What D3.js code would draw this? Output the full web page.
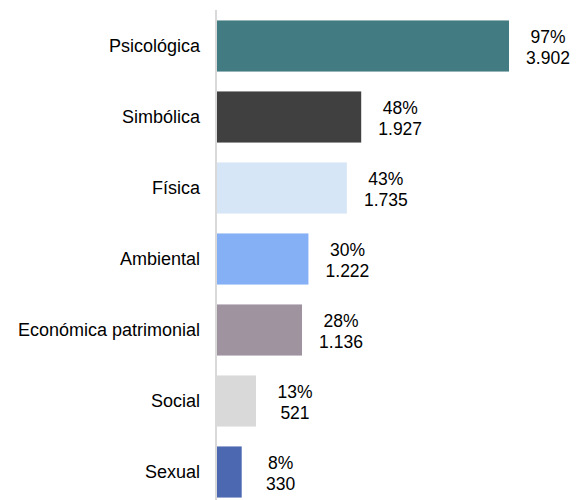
<!DOCTYPE html>
<html>
<head>
<meta charset="utf-8">
<script src="https://cdn.jsdelivr.net/npm/d3@7"></script>
<style>
  body { margin: 0; background: #fff; }
  text { font-family: "Liberation Sans", Arial, sans-serif; fill: #000; }
</style>
</head>
<body>
<div id="chart"></div>
<script>
// DATA
const categories = ["Psicológica", "Simbólica", "Física", "Ambiental", "Económica patrimonial", "Social", "Sexual"];
const counts = [3902, 1927, 1735, 1222, 1136, 521, 330];
const percents = [97, 48, 43, 30, 28, 13, 8];
const colors = ["#427b82", "#404040", "#d6e6f7", "#86b0f5", "#a093a0", "#d9d9d9", "#4b68b0"];

const width = 584, height = 500;

const svg = d3.select("#chart").append("svg")
  .attr("width", width)
  .attr("height", height);

const xScale = d3.scaleLinear()
  .domain([0, d3.max(counts)])
  .range([217, 509]);

const yScale = d3.scaleBand()
  .domain(categories)
  .range([10.5, 507.5])
  .paddingInner(0.28)
  .paddingOuter(0.14);

const data = categories.map((c, i) => ({ cat: c, count: counts[i], pct: percents[i], color: colors[i] }));

// bars
svg.selectAll(".bar").data(data)
  .enter().append("rect")
    .attr("class", "bar")
    .attr("x", xScale(0))
    .attr("y", d => yScale(d.cat))
    .attr("width", d => xScale(d.count) - xScale(0))
    .attr("height", yScale.bandwidth())
    .attr("fill", d => d.color);

// axis line
svg.append("line")
  .attr("x1", 216).attr("x2", 216)
  .attr("y1", 10).attr("y2", height)
  .attr("stroke", "#d9d9d9")
  .attr("stroke-width", 2);

// category labels
svg.selectAll(".cat-label").data(data)
  .enter().append("text")
    .attr("class", "cat-label")
    .attr("x", 200)
    .attr("y", d => yScale(d.cat) + yScale.bandwidth() / 2 + 6)
    .attr("text-anchor", "end")
    .style("font-size", "18px")
    .text(d => d.cat);

// value labels
const vl = svg.selectAll(".val-label").data(data)
  .enter().append("text")
    .attr("class", "val-label")
    .attr("text-anchor", "middle")
    .style("font-size", "17.5px");

vl.append("tspan")
  .attr("x", d => xScale(d.count) + 39)
  .attr("y", d => yScale(d.cat) + yScale.bandwidth() / 2 - 3)
  .text(d => d.pct + "%");

vl.append("tspan")
  .attr("x", d => xScale(d.count) + 39)
  .attr("y", d => yScale(d.cat) + yScale.bandwidth() / 2 + 18)
  .text(d => d3.format(",")(d.count).replace(/,/g, "."));
</script>
</body>
</html>
